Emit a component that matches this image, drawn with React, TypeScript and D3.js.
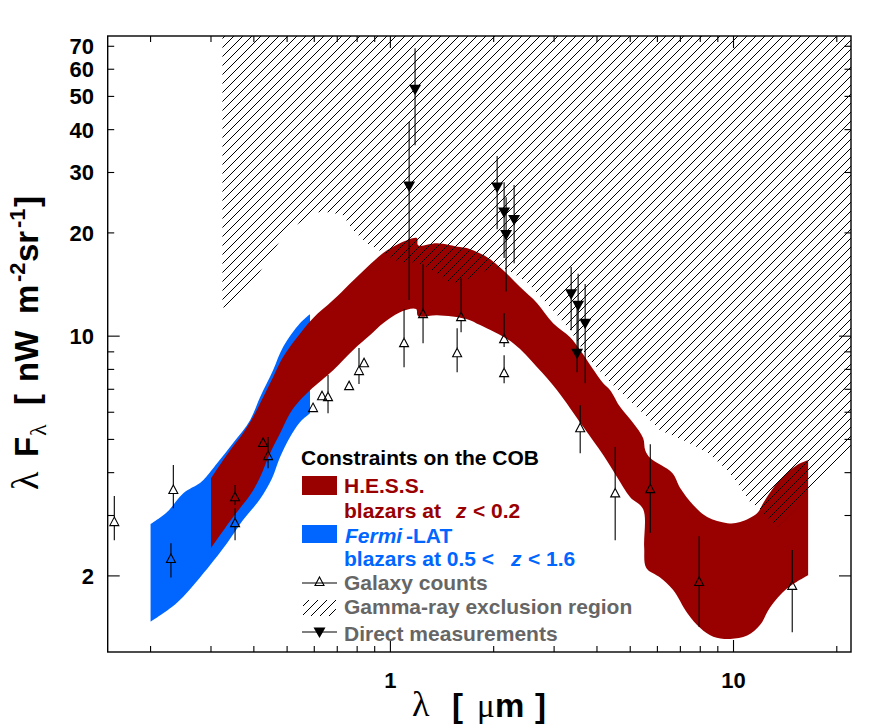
import React from "react";
import * as d3 from "d3";

const hessUpperL = [0.30,0.341,0.372,0.398,0.4256,0.455,0.4866,0.535,0.595,0.681,0.855,0.978,1.118,1.196,1.204,1.368,1.597,1.708,1.914,2.132,2.388,2.677,2.98,3.34,3.574,4.171,4.37,4.675,5.1,5.454,5.53,5.72,6.63,6.99,7.63,8.38,9.59,10.46,11.73,12.21,13.05,14.63,15.65,16.5];
const hessUpperV = [3.85,4.65,5.21,5.81,6.64,7.59,8.69,9.93,11.28,12.74,15.89,17.81,19.05,19.31,18.42,18.67,18.18,17.93,16.99,15.57,13.9,12.48,10.91,9.93,9.1,7.29,6.96,6.21,5.58,5.04,4.65,4.41,3.99,3.61,3.22,2.97,2.85,2.87,3.05,3.26,3.61,4.07,4.26,4.35];
const hessLowerL = [16.5,14.34,12.79,11.96,10.96,9.78,8.73,8.0,7.33,6.67,6.11,5.57,5.49,5.454,5.0,4.58,4.171,3.65,3.06,2.677,2.28,1.826,1.673,1.368,1.204,1.188,1.067,0.952,0.873,0.778,0.681,0.583,0.545,0.51,0.477,0.446,0.417,0.39,0.348,0.30];
const hessLowerV = [2.01,1.84,1.62,1.44,1.34,1.31,1.33,1.41,1.56,1.82,1.98,2.11,2.43,3.13,3.39,3.88,4.5,5.43,6.96,8.12,9.54,10.77,11.21,11.51,11.44,11.99,11.75,10.91,10.07,9.1,7.96,6.96,6.5,5.96,5.21,4.56,3.88,3.44,2.97,2.41];

const fermiUpperL = [0.2,0.2234,0.2487,0.2787,0.288,0.3125,0.348,0.39,0.417,0.455,0.4866,0.545,0.583];
const fermiUpperV = [2.83,3.07,3.48,3.73,3.85,4.26,4.88,5.69,6.64,7.96,9.29,10.91,11.59];
const fermiLowerL = [0.583,0.545,0.51,0.477,0.452,0.417,0.372,0.334,0.2787,0.2388,0.2];
const fermiLowerV = [5.96,5.61,5.08,4.44,3.85,3.35,2.91,2.49,1.98,1.67,1.47];

const exclusionL = [0.324,0.324,0.336,0.398,0.434,0.48,0.524,0.611,0.667,0.728,0.778,0.855,0.946,1.0,1.067,1.196,1.288,1.463,1.523,1.742,1.953,2.132,2.28,2.503,2.98,3.34,3.75,4.37,5.454,6.11,7.13,8.38,9.59,10.25,11.19,11.8,12.63,13.05,13.5,16.6,19.14,22,22];
const exclusionV = [75,12.15,12.07,14.37,16.43,19.18,20.93,22.98,22.98,22.53,20.37,18.67,17.58,16.99,16.43,16.43,15.89,14.56,14.27,14.86,15.78,15.78,15.26,14.37,11.9,10.41,8.69,7.34,5.96,5.32,4.98,4.59,4.07,3.73,3.28,3.17,2.95,2.85,2.79,3.44,3.99,4.81,75];

// [lambda, value, low, high]
const galaxyCounts: number[][] = [
  [0.1568,2.87,2.54,3.42],[0.2293,2.24,1.98,2.49],[0.233,3.56,3.15,4.21],[0.3526,3.39,3.22,3.68],[0.3526,2.85,2.54,3.15],
  [0.4256,4.88,4.88,4.88],[0.44,4.47,4.12,5.08],[0.595,6.17,6.17,6.17],[0.632,6.68,6.68,6.68],[0.658,6.64,5.96,7.7],
  [0.758,7.15,7.15,7.15],[0.81,7.91,7.25,9.23],[0.838,8.34,8.34,8.34],[1.096,9.54,8.12,11.99],[1.245,11.59,9.54,16.21],
  [1.607,11.36,10.27,14.76],[1.565,8.92,7.85,10.55],[2.145,9.8,9.29,11.67],[2.145,7.8,7.29,8.8],[3.574,5.39,4.56,6.29],
  [4.52,3.48,2.54,4.75],[5.72,3.58,2.67,4.84],[7.94,1.92,1.42,2.61],[14.83,1.87,1.37,2.38],
];
const directMeasurements: number[][] = [
  [1.18,52.5,36,69.1],[1.134,27.4,12.74,42.1],[2.047,27.2,20.5,33.5],[2.145,23,16.9,28.1],[2.294,21.9,16.3,27.6],
  [2.174,19.8,13.5,25.4],[3.364,13.3,10.4,15.9],[3.525,12.3,8.98,15.2],[3.695,10.9,7.29,14.2],[3.5,8.92,7.85,12.3],
];

const xTicks = [0.2,0.3,0.4,0.5,0.6,0.7,0.8,0.9,1,2,3,4,5,6,7,8,9,10,20];
const xMajor = [1,10];
const yTicks = [2,3,4,5,6,7,8,9,10,20,30,40,50,60,70];
const yMajor = [2,10];
const yLabels = [2,10,20,30,40,50,60,70];
const xLabels = [1,10];

const L = 107.7, R = 851, T = 36, B = 652;
const DARKRED = "#990000", BLUE = "#0066ff", GRAY = "#666666";
const sans = "'Liberation Sans', Arial, sans-serif";
const serif = "'Liberation Serif', serif";

const x = d3.scaleLog().domain([0.15, 22]).range([L, R]);
const y = d3.scaleLog().domain([1.2, 75]).range([B, T]);

const straight = (ls: number[], vs: number[]) =>
  d3.line<number>().x((_, i) => x(ls[i])).y((v) => y(v))(vs) as string;
const smooth = (ls: number[], vs: number[]) =>
  d3.line<number>().curve(d3.curveCatmullRom.alpha(0.5)).x((_, i) => x(ls[i])).y((v) => y(v))(vs) as string;

const band = (ul: number[], uv: number[], ll: number[], lv: number[]) =>
  smooth(ul, uv) + smooth(ll, lv).replace(/^M/, "L") + "Z";

const UpTri = ({ cx, cy }: { cx: number; cy: number }) => (
  <path d={`M${cx},${cy - 5}L${cx + 4.5},${cy + 3.5}L${cx - 4.5},${cy + 3.5}Z`} fill="none" stroke="black" strokeWidth={1.1} />
);
const DownTri = ({ cx, cy }: { cx: number; cy: number }) => (
  <path d={`M${cx - 6},${cy - 4.5}L${cx + 6},${cy - 4.5}L${cx},${cy + 6}Z`} fill="black" />
);

export default function App() {
  return (
    <svg width={896} height={724} style={{ position: "absolute", left: 0, top: 0 }}>
      <defs>
        <pattern id="hatch" patternUnits="userSpaceOnUse" width={9} height={9}>
          <path d="M-1,1L1,-1M0,9L9,0M8,10L10,8" stroke="black" strokeWidth={1} shapeRendering="crispEdges" />
        </pattern>
        <clipPath id="plot"><rect x={L} y={T} width={R - L} height={B - T} /></clipPath>
      </defs>
      <rect width={896} height={724} fill="white" />
      <g clipPath="url(#plot)">
        <path d={band(fermiUpperL, fermiUpperV, fermiLowerL, fermiLowerV)} fill={BLUE} />
        <path d={band(hessUpperL, hessUpperV, hessLowerL, hessLowerV)} fill={DARKRED} />
        <path d={straight(exclusionL, exclusionV) + "Z"} fill="url(#hatch)" />
      </g>
      {directMeasurements.map((d, i) => (
        <g key={i}>
          <line x1={x(d[0])} x2={x(d[0])} y1={y(d[2])} y2={y(d[3])} stroke="black" strokeWidth={1.1} />
          <DownTri cx={x(d[0])} cy={y(d[1])} />
        </g>
      ))}
      {galaxyCounts.map((d, i) => (
        <g key={i}>
          {d[3] > d[1] && <line x1={x(d[0])} x2={x(d[0])} y1={y(d[1]) - 5} y2={y(d[3])} stroke="black" strokeWidth={1.1} />}
          {d[2] < d[1] && <line x1={x(d[0])} x2={x(d[0])} y1={y(d[1]) + 3.5} y2={y(d[2])} stroke="black" strokeWidth={1.1} />}
          <UpTri cx={x(d[0])} cy={y(d[1])} />
        </g>
      ))}
      <rect x={L} y={T} width={R - L} height={B - T} fill="none" stroke="black" strokeWidth={1.4} />
      {xTicks.map((t) => {
        const len = xMajor.includes(t) ? 12 : 6;
        return (
          <g key={t} stroke="black" strokeWidth={1.1}>
            <line x1={x(t)} x2={x(t)} y1={B} y2={B - len} />
            <line x1={x(t)} x2={x(t)} y1={T} y2={T + len} />
          </g>
        );
      })}
      {yTicks.map((t) => {
        const len = yMajor.includes(t) ? 12 : 6.5;
        return (
          <g key={t} stroke="black" strokeWidth={1.1}>
            <line x1={L} x2={L + len} y1={y(t)} y2={y(t)} />
            <line x1={R} x2={R - len} y1={y(t)} y2={y(t)} />
          </g>
        );
      })}
      <g fontFamily={sans} fontWeight="bold" fontSize={22} fill="black">
        {yLabels.map((t) => (
          <text key={t} x={94} y={y(t) + 8} textAnchor="end">{t}</text>
        ))}
        {xLabels.map((t) => (
          <text key={t} x={x(t)} y={687.5} textAnchor="middle">{t}</text>
        ))}
      </g>

      <g fontFamily={sans} fontWeight="bold" fontSize={21}>
        <text x={301} y={465} fill="black">Constraints on the COB</text>
        <rect x={302} y={476} width={35} height={19} fill={DARKRED} />
        <text x={344} y={493} fill={DARKRED}>H.E.S.S.</text>
        <text x={344} y={518} fill={DARKRED}>blazars at</text>
        <text x={456} y={518} fill={DARKRED} fontStyle="italic">z</text>
        <text x={473} y={518} fill={DARKRED}>&lt; 0.2</text>
        <rect x={302} y={525} width={35} height={18} fill={BLUE} />
        <text x={345} y={543} fill={BLUE} fontStyle="italic">Fermi</text>
        <text x={406} y={543} fill={BLUE}>-LAT</text>
        <text x={344} y={566} fill={BLUE}>blazars at 0.5 &lt;</text>
        <text x={511} y={566} fill={BLUE} fontStyle="italic">z</text>
        <text x={528} y={566} fill={BLUE}>&lt; 1.6</text>
        <text x={344} y={589.5} fill={GRAY}>Galaxy counts</text>
        <text x={344} y={613.5} fill={GRAY}>Gamma-ray exclusion region</text>
        <text x={344} y={640.5} fill={GRAY}>Direct measurements</text>
      </g>
      <line x1={302} x2={337} y1={583} y2={583} stroke="black" strokeWidth={1.1} />
      <UpTri cx={319.5} cy={582} />
      <rect x={303} y={600} width={33} height={16} fill="url(#hatch)" />
      <line x1={302} x2={337} y1={632} y2={632} stroke="black" strokeWidth={1.1} />
      <DownTri cx={319.5} cy={632} />

      <g fontFamily={sans} fontWeight="bold" fontSize={33} fill="black">
        <text x={412} y={716} fontFamily={serif} fontWeight="normal" fontSize={36}>λ</text>
        <text x={452} y={717}>[</text>
        <text x={477} y={717} fontFamily={serif} fontWeight="normal" fontSize={33}>μ</text>
        <text x={495} y={717}>m</text>
        <text x={535} y={717}>]</text>
      </g>
      <g transform="translate(38,490) rotate(-90)" fill="black" fontFamily={sans} fontWeight="bold" fontSize={33}>
        <text x={0} y={0} fontFamily={serif} fontWeight="normal" fontSize={38}>λ</text>
        <text x={33} y={0}>F</text>
        <text x={54} y={8} fontFamily={serif} fontWeight="normal" fontSize={24}>λ</text>
        <text x={85} y={0}>[</text>
        <text x={108} y={0}>nW</text>
        <text x={176} y={0}>m</text>
        <text x={208} y={-13} fontSize={22}>-2</text>
        <text x={228} y={0}>sr</text>
        <text x={262} y={-13} fontSize={22}>-1</text>
        <text x={283} y={0}>]</text>
      </g>
    </svg>
  );
}
